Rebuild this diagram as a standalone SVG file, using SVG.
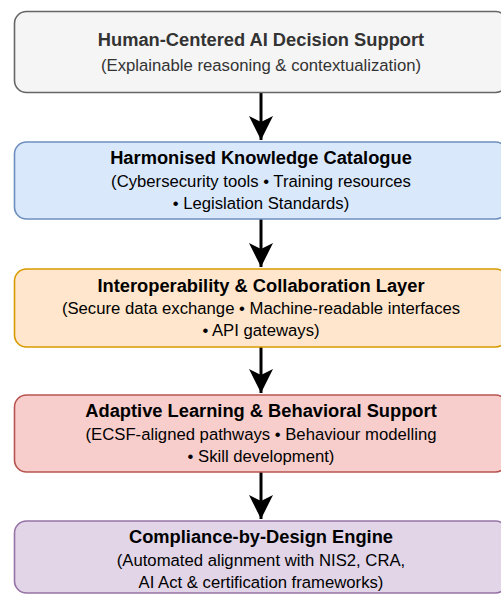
<svg xmlns="http://www.w3.org/2000/svg" width="501" height="595" viewBox="0 0 501 595">
<style>
.box{stroke-width:1.6}
.t{font-family:"Liberation Sans",Arial,Helvetica,sans-serif;font-weight:bold;font-size:18.3px;fill:#000;text-anchor:middle}
.s{font-family:"Liberation Sans",Arial,Helvetica,sans-serif;font-size:16.7px;fill:#000;text-anchor:middle}
.g{fill:#333333}
.c{stroke:#000;stroke-width:3;fill:none}
</style>
<defs>
<marker id="ah" markerUnits="userSpaceOnUse" markerWidth="26" markerHeight="26" viewBox="0 0 26 26" refX="24" refY="13" orient="auto">
<path d="M24 13 L0 1 L6 13 L0 25 Z" fill="#000"/>
</marker>
</defs>
<rect width="501" height="595" fill="#fff"/>
<g id="connectors">
<path class="c" d="M261 92.5 V140" marker-end="url(#ah)"/>
<path class="c" d="M261 219 V267" marker-end="url(#ah)"/>
<path class="c" d="M261 347 V393" marker-end="url(#ah)"/>
<path class="c" d="M261 472 V519" marker-end="url(#ah)"/>
</g>
<g id="node1">
<rect class="box" x="14.5" y="11.5" width="493" height="81" rx="12" fill="#f5f5f5" stroke="#666666"/>
<text class="t g" x="261" y="46">Human-Centered AI Decision Support</text>
<text class="s g" x="261" y="71">(Explainable reasoning &amp; contextualization)</text>
</g>
<g id="node2">
<rect class="box" x="14.5" y="142" width="493" height="77" rx="12" fill="#dae8fc" stroke="#6c8ebf"/>
<text class="t" x="261" y="164">Harmonised Knowledge Catalogue</text>
<text class="s" x="261" y="187">(Cybersecurity tools • Training resources</text>
<text class="s" x="261" y="209">• Legislation Standards)</text>
</g>
<g id="node3">
<rect class="box" x="14.5" y="269" width="493" height="78" rx="12" fill="#ffe6cc" stroke="#d79b00"/>
<text class="t" x="261" y="292">Interoperability &amp; Collaboration Layer</text>
<text class="s" x="261" y="314">(Secure data exchange • Machine-readable interfaces</text>
<text class="s" x="261" y="336">• API gateways)</text>
</g>
<g id="node4">
<rect class="box" x="14.5" y="395" width="493" height="77" rx="12" fill="#f8cecc" stroke="#b85450"/>
<text class="t" x="261" y="417">Adaptive Learning &amp; Behavioral Support</text>
<text class="s" x="261" y="440">(ECSF-aligned pathways • Behaviour modelling</text>
<text class="s" x="261" y="462">• Skill development)</text>
</g>
<g id="node5">
<rect class="box" x="14.5" y="521" width="493" height="72" rx="12" fill="#e1d5e7" stroke="#9673a6"/>
<text class="t" x="261" y="543">Compliance-by-Design Engine</text>
<text class="s" x="261" y="566">(Automated alignment with NIS2, CRA,</text>
<text class="s" x="261" y="588">AI Act &amp; certification frameworks)</text>
</g>
</svg>
